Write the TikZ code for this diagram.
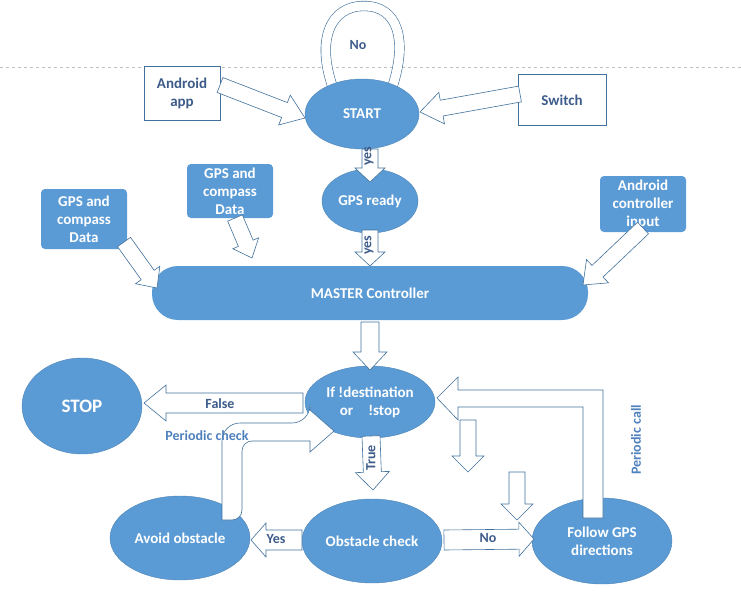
\documentclass[tikz,border=0pt]{standalone}
\usepackage{fontspec}
\setmainfont{Carlito}
\usetikzlibrary{calc}
\definecolor{fb}{HTML}{5B9BD5}
\definecolor{bd}{HTML}{41719C}
\definecolor{lab}{HTML}{3E5C8A}
\definecolor{per}{HTML}{4F81BD}
\tikzset{
 ell/.style={ellipse,fill=fb,draw=fb!85!black,line width=0.4pt,text=white,font=\bfseries\fontsize{15}{18}\selectfont,align=center,inner sep=0pt},
 wbox/.style={draw=bd,fill=white,text=lab,font=\bfseries\fontsize{15}{18}\selectfont,align=center,inner sep=0pt},
 bbox/.style={fill=fb,rounded corners=4pt,text=white,font=\bfseries\fontsize{15}{18}\selectfont,align=center,inner sep=0pt},
 barrow/.style={draw=bd,line width=0.6pt,fill=white},
 alab/.style={text=lab,font=\bfseries\fontsize{14}{16}\selectfont},
 plab/.style={text=per,font=\bfseries\fontsize{14}{16}\selectfont}
}
\usetikzlibrary{shapes.geometric}
\newcommand\barr[7]{%
 \pgfmathsetmacro\ang{atan2(-(#4-#2),#3-#1)}%
 \pgfmathsetmacro\len{veclen(#3-#1,#4-#2)}%
 \begin{scope}[shift={(#1,#2)},rotate=\ang]
 \draw[barrow] (0,-#5)--(\len-#7,-#5)--(\len-#7,-#6)--(\len,0)--(\len-#7,#6)--(\len-#7,#5)--(0,#5)--cycle;
 \end{scope}}
\begin{document}
\begin{tikzpicture}[x=1pt,y=-1pt]
\useasboundingbox (0,0) rectangle (741,599);
\draw[gray!50,dashed] (0,67)--(741,67);
% loop
\draw[draw=bd,double=white,double distance=9pt,line width=0.6pt] (333,88) .. controls (316,40) and (330,6) .. (364,6) .. controls (398,6) and (408,40) .. (392,88);
\node[alab] (no) at (358,45) {No};
% nodes
\node[wbox,minimum width=76pt,minimum height=54pt] (aapp) at (182,93) {Android\\app};
\node[wbox,minimum width=88pt,minimum height=51pt] (sw) at (562,100) {Switch};
\node[ell,minimum width=114pt,minimum height=70pt] (start) at (362,114) {START};
\node[ell,minimum width=96pt,minimum height=64pt] (gps) at (370,201) {GPS ready};
\node[bbox,minimum width=86pt,minimum height=60pt] (d1) at (84,219) {GPS and\\compass\\Data};
\node[bbox,minimum width=86pt,minimum height=54pt] (d2) at (230,191) {GPS and\\compass\\Data};
\node[bbox,minimum width=86pt,minimum height=56pt] (aci) at (643,204) {Android\\controller\\input};
\node[fill=fb,rounded corners=26pt,minimum width=436pt,minimum height=54pt,text=white,font=\bfseries\fontsize{15}{18}\selectfont] (mc) at (370,293) {MASTER Controller};
\node[ell,minimum width=130pt,minimum height=72pt] (if) at (370,402) {If !destination\\or\quad!stop};
\node[ell,minimum width=120pt,minimum height=96pt] (stop) at (82,406) {\fontsize{19}{22}\selectfont STOP};
\node[ell,minimum width=140pt,minimum height=84pt] (obs) at (372,541) {Obstacle check};
\node[ell,minimum width=140pt,minimum height=84pt] (avoid) at (180,538) {Avoid obstacle};
\node[ell,minimum width=140pt,minimum height=86pt] (fol) at (602,541) {Follow GPS\\directions};
% block arrows
\barr{220}{85}{305}{118}{8}{16}{22}
\barr{520}{94}{420}{112}{8}{16}{22}
\barr{370}{149}{370}{182}{8}{15}{14}
\node[alab,rotate=90] at (369,156) {yes};
\barr{370}{230}{370}{266}{8}{15}{14}
\node[alab,rotate=90] at (369,245) {yes};
\barr{124}{242}{157}{288}{8}{15}{16}
\barr{235}{218}{252}{258}{8}{14}{16}
\barr{643}{228}{583}{285}{8}{16}{20}
\barr{370}{322}{370}{370}{9}{17}{18}
\barr{303}{403}{144}{403}{10}{18}{22}
\node[alab] (fal) at (220,404) {False};
\barr{371}{436}{373}{490}{9}{17}{18}
\node[alab,rotate=90] at (371,458) {True};
\barr{302}{540}{251}{540}{10}{17}{15}
\node[alab] at (276,539) {Yes};
\barr{444}{540}{534}{539}{10}{17}{15}
\node[alab] at (488,538) {No};
\barr{468}{420}{468}{472}{8}{16}{16}
\barr{517}{472}{517}{520}{8}{16}{16}
% curved avoid->if
\draw[barrow] (222,520) [rounded corners=18]-- (222,423) -- (310,423) [sharp corners]-- (310,410) -- (334,431) -- (310,452) -- (310,441) [rounded corners=10]-- (242,441) -- (242,520) [sharp corners]-- cycle;
\node[plab] (pc) at (207,436) {Periodic check};
% periodic call
\draw[barrow] (583,518)--(583,407)--(458,407)--(458,420)--(437,398)--(458,377)--(458,390)--(603,390)--(603,518)--cycle;
\node[plab,rotate=90] (pcall) at (636,440) {Periodic call};
\end{tikzpicture}
\end{document}
